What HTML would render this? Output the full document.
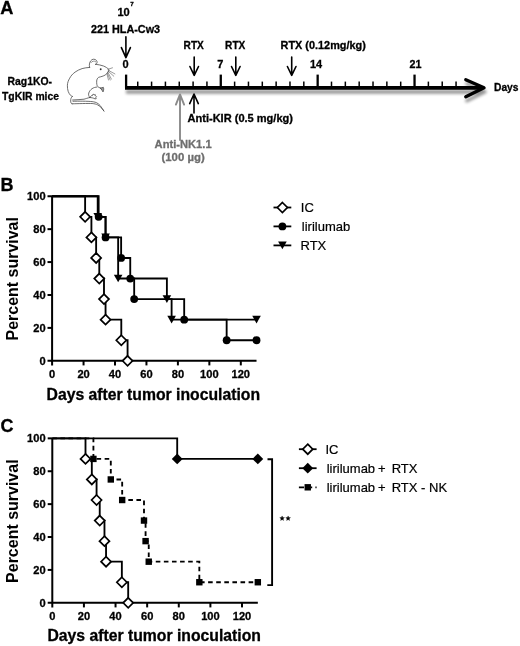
<!DOCTYPE html>
<html><head><meta charset="utf-8"><title>Figure</title>
<style>
html,body{margin:0;padding:0;background:#fff;}
svg{display:block;will-change:transform;}
text{font-family:"Liberation Sans", sans-serif;}
</style></head>
<body>
<svg width="520" height="646" viewBox="0 0 520 646">
<defs>
<filter id="sh" x="-5%" y="-50%" width="110%" height="250%">
<feGaussianBlur in="SourceAlpha" stdDeviation="1.5"/>
<feOffset dx="0.5" dy="4.3" result="ob"/>
<feComponentTransfer><feFuncA type="linear" slope="0.42"/></feComponentTransfer>
<feMerge><feMergeNode/><feMergeNode in="SourceGraphic"/></feMerge>
</filter>
</defs>
<rect width="520" height="646" fill="#fff"/>
<g id="panelA">
<text x="0.2" y="14.1" font-size="18.2" font-weight="bold" fill="#000" text-anchor="start" stroke="#000" stroke-width="0.3">A</text>
<g filter="url(#sh)">
<line x1="125" y1="87.9" x2="483" y2="87.9" stroke="#000" stroke-width="3.6"/>
<polyline points="465.8,79.8 484.0,87.8 465.8,96.7" fill="none" stroke="#000" stroke-width="3.4" stroke-linecap="round" stroke-linejoin="round"/>
</g>
<line x1="126.10" y1="74.6" x2="126.10" y2="87.9" stroke="#000" stroke-width="2.3"/>
<line x1="137.74" y1="81.6" x2="137.74" y2="87.9" stroke="#000" stroke-width="1.5"/>
<line x1="151.58" y1="81.6" x2="151.58" y2="87.9" stroke="#000" stroke-width="1.5"/>
<line x1="165.42" y1="81.6" x2="165.42" y2="87.9" stroke="#000" stroke-width="1.5"/>
<line x1="179.26" y1="81.6" x2="179.26" y2="87.9" stroke="#000" stroke-width="1.5"/>
<line x1="193.10" y1="81.6" x2="193.10" y2="87.9" stroke="#000" stroke-width="1.5"/>
<line x1="206.94" y1="81.6" x2="206.94" y2="87.9" stroke="#000" stroke-width="1.5"/>
<line x1="220.78" y1="74.6" x2="220.78" y2="87.9" stroke="#000" stroke-width="2.3"/>
<line x1="234.62" y1="81.6" x2="234.62" y2="87.9" stroke="#000" stroke-width="1.5"/>
<line x1="248.46" y1="81.6" x2="248.46" y2="87.9" stroke="#000" stroke-width="1.5"/>
<line x1="262.30" y1="81.6" x2="262.30" y2="87.9" stroke="#000" stroke-width="1.5"/>
<line x1="276.14" y1="81.6" x2="276.14" y2="87.9" stroke="#000" stroke-width="1.5"/>
<line x1="289.98" y1="81.6" x2="289.98" y2="87.9" stroke="#000" stroke-width="1.5"/>
<line x1="303.82" y1="81.6" x2="303.82" y2="87.9" stroke="#000" stroke-width="1.5"/>
<line x1="317.66" y1="74.6" x2="317.66" y2="87.9" stroke="#000" stroke-width="2.3"/>
<line x1="331.50" y1="81.6" x2="331.50" y2="87.9" stroke="#000" stroke-width="1.5"/>
<line x1="345.34" y1="81.6" x2="345.34" y2="87.9" stroke="#000" stroke-width="1.5"/>
<line x1="359.18" y1="81.6" x2="359.18" y2="87.9" stroke="#000" stroke-width="1.5"/>
<line x1="373.02" y1="81.6" x2="373.02" y2="87.9" stroke="#000" stroke-width="1.5"/>
<line x1="386.86" y1="81.6" x2="386.86" y2="87.9" stroke="#000" stroke-width="1.5"/>
<line x1="400.70" y1="81.6" x2="400.70" y2="87.9" stroke="#000" stroke-width="1.5"/>
<line x1="414.54" y1="74.6" x2="414.54" y2="87.9" stroke="#000" stroke-width="2.3"/>
<line x1="428.38" y1="81.6" x2="428.38" y2="87.9" stroke="#000" stroke-width="1.5"/>
<line x1="442.22" y1="81.6" x2="442.22" y2="87.9" stroke="#000" stroke-width="1.5"/>
<line x1="456.06" y1="81.6" x2="456.06" y2="87.9" stroke="#000" stroke-width="1.5"/>
<text x="122.4" y="67.7" font-size="11" font-weight="bold" fill="#000" text-anchor="start" stroke="#000" stroke-width="0.3">0</text>
<text x="217.2" y="67.7" font-size="11" font-weight="bold" fill="#000" text-anchor="start" stroke="#000" stroke-width="0.3">7</text>
<text x="310.0" y="68.0" font-size="11" font-weight="bold" fill="#000" text-anchor="start" textLength="12.2" lengthAdjust="spacingAndGlyphs" stroke="#000" stroke-width="0.3">14</text>
<text x="409.6" y="68.2" font-size="11" font-weight="bold" fill="#000" text-anchor="start" textLength="12.0" lengthAdjust="spacingAndGlyphs" stroke="#000" stroke-width="0.3">21</text>
<text x="494.0" y="90.5" font-size="11" font-weight="bold" fill="#000" text-anchor="start" textLength="24.5" lengthAdjust="spacingAndGlyphs" stroke="#000" stroke-width="0.3">Days</text>
<text x="117.4" y="15.9" font-size="11" font-weight="bold" fill="#000" text-anchor="start" textLength="12.3" lengthAdjust="spacingAndGlyphs" stroke="#000" stroke-width="0.3">10</text>
<text x="130.2" y="5.8" font-size="6.2" font-weight="bold" fill="#000" text-anchor="start" stroke="#000" stroke-width="0.3">7</text>
<text x="91.0" y="32.7" font-size="11" font-weight="bold" fill="#000" text-anchor="start" textLength="69.1" lengthAdjust="spacingAndGlyphs" stroke="#000" stroke-width="0.3">221 HLA-Cw3</text>
<text x="183.6" y="49.2" font-size="11" font-weight="bold" fill="#000" text-anchor="start" textLength="20.2" lengthAdjust="spacingAndGlyphs" stroke="#000" stroke-width="0.3">RTX</text>
<text x="225.1" y="49.2" font-size="11" font-weight="bold" fill="#000" text-anchor="start" textLength="20.2" lengthAdjust="spacingAndGlyphs" stroke="#000" stroke-width="0.3">RTX</text>
<text x="280.6" y="49.2" font-size="11" font-weight="bold" fill="#000" text-anchor="start" textLength="85.2" lengthAdjust="spacingAndGlyphs" stroke="#000" stroke-width="0.3">RTX (0.12mg/kg)</text>
<path d="M125.9 36.8 L125.9 57.300000000000004 M121.4 47.6 L125.9 57.6 L130.4 47.6" fill="none" stroke="#000" stroke-width="1.6" stroke-linecap="round" stroke-linejoin="round"/>
<path d="M194.2 57.0 L194.2 75.0 M189.89999999999998 66.5 L194.2 75.3 L198.5 66.5" fill="none" stroke="#000" stroke-width="1.6" stroke-linecap="round" stroke-linejoin="round"/>
<path d="M235.8 57.0 L235.8 75.0 M231.5 66.5 L235.8 75.3 L240.10000000000002 66.5" fill="none" stroke="#000" stroke-width="1.6" stroke-linecap="round" stroke-linejoin="round"/>
<path d="M291.7 57.0 L291.7 75.0 M287.4 66.5 L291.7 75.3 L296.0 66.5" fill="none" stroke="#000" stroke-width="1.6" stroke-linecap="round" stroke-linejoin="round"/>
<path d="M180.0 140.0 L180.0 94.7 M175.9 104.6 L180.0 94.4 L184.1 104.6" fill="none" stroke="#8a8a8a" stroke-width="1.9" stroke-linecap="round" stroke-linejoin="round"/>
<path d="M194.0 113.0 L194.0 94.3 M189.7 103.6 L194.0 94.0 L198.3 103.6" fill="none" stroke="#000" stroke-width="1.6" stroke-linecap="round" stroke-linejoin="round"/>
<text x="187.5" y="122.1" font-size="11" font-weight="bold" fill="#000" text-anchor="start" textLength="105.5" lengthAdjust="spacingAndGlyphs" stroke="#000" stroke-width="0.3">Anti-KIR (0.5 mg/kg)</text>
<text x="154.6" y="147.9" font-size="11" font-weight="bold" fill="#6e6e6e" text-anchor="start" textLength="57.0" lengthAdjust="spacingAndGlyphs" stroke="#6e6e6e" stroke-width="0.3">Anti-NK1.1</text>
<text x="161.5" y="161.3" font-size="11" font-weight="bold" fill="#6e6e6e" text-anchor="start" textLength="43.2" lengthAdjust="spacingAndGlyphs" stroke="#6e6e6e" stroke-width="0.3">(100 µg)</text>
<text x="7.6" y="84.9" font-size="11" font-weight="bold" fill="#000" text-anchor="start" textLength="44.4" lengthAdjust="spacingAndGlyphs" stroke="#000" stroke-width="0.3">Rag1KO-</text>
<text x="2.0" y="99.7" font-size="11" font-weight="bold" fill="#000" text-anchor="start" textLength="57.0" lengthAdjust="spacingAndGlyphs" stroke="#000" stroke-width="0.3">TgKIR mice</text>
</g>
<g id="mouse" fill="none" stroke="#4a4a4a" stroke-width="0.8" stroke-linecap="round" stroke-linejoin="round">
<path d="M89.5 67.3 C88.9 64.5 89.6 61.2 92.0 59.6 C94.2 58.6 96.6 59.6 97.1 61.8 C97.3 62.9 96.6 63.9 95.5 64.4"/>
<path d="M91.0 62.6 C92.0 61.0 94.3 60.5 95.8 61.8" stroke-width="0.6"/>
<path d="M95.5 64.3 C98 64.6 101 65 103.5 66 C105.5 66.8 107.5 68 109.1 69.8 C108.7 71.3 107.5 72.7 105.6 74.8 C103.5 76.2 100.5 76.8 98.7 77.3 C97.5 78 96.7 79.5 96.7 81 C96.6 83.5 96.8 85.5 97.6 86.3 C98.3 87.3 99.3 87.8 100.5 88.1"/>
<path d="M100.5 88.1 C101.5 88 102.6 87.5 103.3 87.3 C103.9 88.5 103.8 90.5 103 91.9 C102.4 91 101.9 90 101.3 89.2 Z" fill="#999"/>
<path d="M97 87 C95.5 87.2 93.5 87.6 92 88.7 C90.3 90 89.2 91.5 88.8 93 C88.3 94.5 88.5 96 89.9 97.5"/>
<path d="M89.9 97.5 C90.6 96.6 91.1 95.9 91.6 95.5 L92.4 95.6 L93.2 94.0 L94.1 94.9 L95.2 94.5 L95.5 95.8 L96.5 96.8 L95.8 97.6 L96.2 98.7 L95.0 98.9 C94.3 98.4 93.4 98.1 92.5 97.9 C91.6 97.7 90.8 97.6 89.9 97.5 Z" fill="#fff" stroke="#444" stroke-width="0.8"/>
<path d="M89.9 97.5 C87.5 98 85.5 98.8 84 99.2 C80 99.6 76 99.8 72.6 100.0"/>
<path d="M89.8 67.4 C87 67.6 84.5 67.9 82.1 68.6 C79.5 69.5 77 70.6 75.1 72.1 C72.5 74 70.8 76 69.7 78.2 C68.3 80.5 67.5 82.8 67.4 85.2 C67.3 87.5 67.6 89.6 68.2 91.4 C68.8 93 69.6 94.4 70.5 95.3 C71.2 95.9 71.8 96.2 72.4 96.4"/>
<path d="M72.4 96.4 C71.4 97.3 70.9 98.2 70.8 99.3 C70.6 100.6 70.6 101.6 70.9 102.6 C71.2 103.3 71.6 103.7 72.1 103.8"/>
<path d="M73 101.3 C78 101.0 88 101.2 92.1 101.6 C94.5 101.9 96 102.4 96.9 102.9 C98.3 103.8 99.4 104.6 100.2 105.6 C101.5 107.3 102.8 109.2 103.9 111"/>
<path d="M72.1 103.8 C78 103.6 88 103.4 92.1 103.5 C94.5 103.7 96.2 104.2 97.5 104.8 C99 105.6 100.7 107 101.8 108.3 C102.6 109.3 103.3 110.2 103.9 111"/>
<path d="M107.9 69.3 L112.5 67.8 M108.5 70.4 L114.9 73.9 M108.2 71.2 L113.8 76.2 M107.9 72.2 L111.4 79.1 M107.4 73.3 L110.2 80 M106.9 73.8 L108.5 80" stroke-width="0.55"/>
<circle cx="100.7" cy="69.2" r="0.95" fill="#333" stroke="none"/>
</g>
<g id="chartB">
<text x="0.4" y="190.6" font-size="18.0" font-weight="bold" fill="#000" text-anchor="start" stroke="#000" stroke-width="0.3">B</text>
<path d="M52.1 196.25000000000003 L52.1 365.40000000000003 M47.5 360.8 L256.52500000000003 360.8" fill="none" stroke="#000" stroke-width="2"/>
<line x1="47.5" y1="327.89" x2="52.1" y2="327.89" stroke="#000" stroke-width="2"/>
<line x1="47.5" y1="294.98" x2="52.1" y2="294.98" stroke="#000" stroke-width="2"/>
<line x1="47.5" y1="262.07" x2="52.1" y2="262.07" stroke="#000" stroke-width="2"/>
<line x1="47.5" y1="229.16" x2="52.1" y2="229.16" stroke="#000" stroke-width="2"/>
<line x1="47.5" y1="196.25" x2="52.1" y2="196.25" stroke="#000" stroke-width="2"/>
<line x1="83.55" y1="360.8" x2="83.55" y2="365.40000000000003" stroke="#000" stroke-width="2"/>
<line x1="115.00" y1="360.8" x2="115.00" y2="365.40000000000003" stroke="#000" stroke-width="2"/>
<line x1="146.45" y1="360.8" x2="146.45" y2="365.40000000000003" stroke="#000" stroke-width="2"/>
<line x1="177.90" y1="360.8" x2="177.90" y2="365.40000000000003" stroke="#000" stroke-width="2"/>
<line x1="209.35" y1="360.8" x2="209.35" y2="365.40000000000003" stroke="#000" stroke-width="2"/>
<line x1="240.80" y1="360.8" x2="240.80" y2="365.40000000000003" stroke="#000" stroke-width="2"/>
<text x="45.6" y="364.90000000000003" font-size="11.1" font-weight="bold" fill="#000" text-anchor="end" stroke="#000" stroke-width="0.3">0</text>
<text x="45.6" y="331.99" font-size="11.1" font-weight="bold" fill="#000" text-anchor="end" stroke="#000" stroke-width="0.3">20</text>
<text x="45.6" y="299.08000000000004" font-size="11.1" font-weight="bold" fill="#000" text-anchor="end" stroke="#000" stroke-width="0.3">40</text>
<text x="45.6" y="266.17" font-size="11.1" font-weight="bold" fill="#000" text-anchor="end" stroke="#000" stroke-width="0.3">60</text>
<text x="45.6" y="233.26000000000002" font-size="11.1" font-weight="bold" fill="#000" text-anchor="end" stroke="#000" stroke-width="0.3">80</text>
<text x="45.6" y="200.35000000000002" font-size="11.1" font-weight="bold" fill="#000" text-anchor="end" stroke="#000" stroke-width="0.3">100</text>
<text x="52.1" y="378.1" font-size="11.1" font-weight="bold" fill="#000" text-anchor="middle" stroke="#000" stroke-width="0.3">0</text>
<text x="83.55" y="378.1" font-size="11.1" font-weight="bold" fill="#000" text-anchor="middle" stroke="#000" stroke-width="0.3">20</text>
<text x="115.0" y="378.1" font-size="11.1" font-weight="bold" fill="#000" text-anchor="middle" stroke="#000" stroke-width="0.3">40</text>
<text x="146.45" y="378.1" font-size="11.1" font-weight="bold" fill="#000" text-anchor="middle" stroke="#000" stroke-width="0.3">60</text>
<text x="177.9" y="378.1" font-size="11.1" font-weight="bold" fill="#000" text-anchor="middle" stroke="#000" stroke-width="0.3">80</text>
<text x="209.35" y="378.1" font-size="11.1" font-weight="bold" fill="#000" text-anchor="middle" stroke="#000" stroke-width="0.3">100</text>
<text x="240.79999999999998" y="378.1" font-size="11.1" font-weight="bold" fill="#000" text-anchor="middle" stroke="#000" stroke-width="0.3">120</text>
<text x="46.55" y="399.5" font-size="15.8" font-weight="bold" fill="#000" text-anchor="start" textLength="213.54999999999998" lengthAdjust="spacingAndGlyphs" stroke="#000" stroke-width="0.3">Days after tumor inoculation</text>
<text transform="translate(17.6,340.4) rotate(-90)" font-size="15.6" font-weight="bold" textLength="123.30000000000001" lengthAdjust="spacingAndGlyphs">Percent survival</text>
<path d="M52.10 196.25 L85.12 196.25 L85.12 216.82 L91.41 216.82 L91.41 237.39 L96.13 237.39 L96.13 257.96 L99.28 257.96 L99.28 278.53 L103.99 278.53 L103.99 299.09 L105.56 299.09 L105.56 319.66 L121.29 319.66 L121.29 340.23 L127.58 340.23 L127.58 360.80" fill="none" stroke="#000" stroke-width="1.85"/>
<path d="M52.10 196.25 L97.70 196.25 L97.70 216.82 L105.56 216.82 L105.56 237.39 L118.15 237.39 L118.15 278.53 L166.89 278.53 L166.89 299.09 L171.61 299.09 L171.61 319.66 L256.53 319.66" fill="none" stroke="#000" stroke-width="1.85"/>
<path d="M52.10 196.25 L98.65 196.25 L98.65 216.82 L105.56 216.82 L105.56 237.39 L121.13 237.39 L121.13 257.96 L130.25 257.96 L130.25 278.53 L134.18 278.53 L134.18 299.09 L184.19 299.09 L184.19 319.66 L226.65 319.66 L226.65 340.23 L256.53 340.23" fill="none" stroke="#000" stroke-width="1.85"/>
<path d="M85.12 211.82 L90.12 216.82 L85.12 221.82 L80.12 216.82 Z" fill="#fff" stroke="#000" stroke-width="1.7"/>
<path d="M91.41 232.39 L96.41 237.39 L91.41 242.39 L86.41 237.39 Z" fill="#fff" stroke="#000" stroke-width="1.7"/>
<path d="M96.13 252.96 L101.13 257.96 L96.13 262.96 L91.13 257.96 Z" fill="#fff" stroke="#000" stroke-width="1.7"/>
<path d="M99.28 273.53 L104.28 278.53 L99.28 283.53 L94.28 278.53 Z" fill="#fff" stroke="#000" stroke-width="1.7"/>
<path d="M103.99 294.09 L108.99 299.09 L103.99 304.09 L98.99 299.09 Z" fill="#fff" stroke="#000" stroke-width="1.7"/>
<path d="M105.56 314.66 L110.56 319.66 L105.56 324.66 L100.56 319.66 Z" fill="#fff" stroke="#000" stroke-width="1.7"/>
<path d="M121.29 335.23 L126.29 340.23 L121.29 345.23 L116.29 340.23 Z" fill="#fff" stroke="#000" stroke-width="1.7"/>
<path d="M127.58 355.80 L132.58 360.80 L127.58 365.80 L122.58 360.80 Z" fill="#fff" stroke="#000" stroke-width="1.7"/>
<path d="M93.40 213.02 L102.00 213.02 L97.70 220.62 Z" fill="#000"/>
<path d="M101.27 233.59 L109.86 233.59 L105.56 241.19 Z" fill="#000"/>
<path d="M113.85 274.73 L122.45 274.73 L118.15 282.33 Z" fill="#000"/>
<path d="M162.59 295.29 L171.19 295.29 L166.89 302.89 Z" fill="#000"/>
<path d="M167.31 315.86 L175.91 315.86 L171.61 323.46 Z" fill="#000"/>
<path d="M252.23 315.86 L260.83 315.86 L256.53 323.46 Z" fill="#000"/>
<circle cx="98.65" cy="216.82" r="3.9" fill="#000"/>
<circle cx="105.56" cy="237.39" r="3.9" fill="#000"/>
<circle cx="121.13" cy="257.96" r="3.9" fill="#000"/>
<circle cx="130.25" cy="278.53" r="3.9" fill="#000"/>
<circle cx="134.18" cy="299.09" r="3.9" fill="#000"/>
<circle cx="184.19" cy="319.66" r="3.9" fill="#000"/>
<circle cx="226.65" cy="340.23" r="3.9" fill="#000"/>
<circle cx="256.53" cy="340.23" r="3.9" fill="#000"/>
<line x1="273.5" y1="207.5" x2="291.3" y2="207.5" stroke="#000" stroke-width="1.8"/>
<path d="M282.40 202.50 L287.40 207.50 L282.40 212.50 L277.40 207.50 Z" fill="#fff" stroke="#000" stroke-width="1.7"/>
<text x="300.8" y="212.1" font-size="13" font-weight="normal" fill="#000" text-anchor="start" stroke="#000" stroke-width="0.2">IC</text>
<line x1="273.5" y1="226.4" x2="291.3" y2="226.4" stroke="#000" stroke-width="1.8"/>
<circle cx="282.40" cy="226.40" r="3.9" fill="#000"/>
<text x="301.8" y="230.7" font-size="13" font-weight="normal" fill="#000" text-anchor="start" stroke="#000" stroke-width="0.2">lirilumab</text>
<line x1="273.5" y1="245.4" x2="291.3" y2="245.4" stroke="#000" stroke-width="1.8"/>
<path d="M278.10 241.60 L286.70 241.60 L282.40 249.20 Z" fill="#000"/>
<text x="300.5" y="249.9" font-size="13" font-weight="normal" fill="#000" text-anchor="start" stroke="#000" stroke-width="0.2">RTX</text>
</g>
<g id="chartC">
<text x="0.4" y="432.0" font-size="18.0" font-weight="bold" fill="#000" text-anchor="start" stroke="#000" stroke-width="0.3">C</text>
<path d="M52.3 438.3499999999999 L52.3 607.4 M47.699999999999996 602.8 L257.83 602.8" fill="none" stroke="#000" stroke-width="2"/>
<line x1="47.699999999999996" y1="569.91" x2="52.3" y2="569.91" stroke="#000" stroke-width="2"/>
<line x1="47.699999999999996" y1="537.02" x2="52.3" y2="537.02" stroke="#000" stroke-width="2"/>
<line x1="47.699999999999996" y1="504.13" x2="52.3" y2="504.13" stroke="#000" stroke-width="2"/>
<line x1="47.699999999999996" y1="471.24" x2="52.3" y2="471.24" stroke="#000" stroke-width="2"/>
<line x1="47.699999999999996" y1="438.35" x2="52.3" y2="438.35" stroke="#000" stroke-width="2"/>
<line x1="83.92" y1="602.8" x2="83.92" y2="607.4" stroke="#000" stroke-width="2"/>
<line x1="115.54" y1="602.8" x2="115.54" y2="607.4" stroke="#000" stroke-width="2"/>
<line x1="147.16" y1="602.8" x2="147.16" y2="607.4" stroke="#000" stroke-width="2"/>
<line x1="178.78" y1="602.8" x2="178.78" y2="607.4" stroke="#000" stroke-width="2"/>
<line x1="210.40" y1="602.8" x2="210.40" y2="607.4" stroke="#000" stroke-width="2"/>
<line x1="242.02" y1="602.8" x2="242.02" y2="607.4" stroke="#000" stroke-width="2"/>
<text x="45.6" y="606.9" font-size="11.1" font-weight="bold" fill="#000" text-anchor="end" stroke="#000" stroke-width="0.3">0</text>
<text x="45.6" y="574.01" font-size="11.1" font-weight="bold" fill="#000" text-anchor="end" stroke="#000" stroke-width="0.3">20</text>
<text x="45.6" y="541.12" font-size="11.1" font-weight="bold" fill="#000" text-anchor="end" stroke="#000" stroke-width="0.3">40</text>
<text x="45.6" y="508.22999999999996" font-size="11.1" font-weight="bold" fill="#000" text-anchor="end" stroke="#000" stroke-width="0.3">60</text>
<text x="45.6" y="475.34" font-size="11.1" font-weight="bold" fill="#000" text-anchor="end" stroke="#000" stroke-width="0.3">80</text>
<text x="45.6" y="442.44999999999993" font-size="11.1" font-weight="bold" fill="#000" text-anchor="end" stroke="#000" stroke-width="0.3">100</text>
<text x="52.3" y="620.0999999999999" font-size="11.1" font-weight="bold" fill="#000" text-anchor="middle" stroke="#000" stroke-width="0.3">0</text>
<text x="83.91999999999999" y="620.0999999999999" font-size="11.1" font-weight="bold" fill="#000" text-anchor="middle" stroke="#000" stroke-width="0.3">20</text>
<text x="115.53999999999999" y="620.0999999999999" font-size="11.1" font-weight="bold" fill="#000" text-anchor="middle" stroke="#000" stroke-width="0.3">40</text>
<text x="147.16" y="620.0999999999999" font-size="11.1" font-weight="bold" fill="#000" text-anchor="middle" stroke="#000" stroke-width="0.3">60</text>
<text x="178.77999999999997" y="620.0999999999999" font-size="11.1" font-weight="bold" fill="#000" text-anchor="middle" stroke="#000" stroke-width="0.3">80</text>
<text x="210.39999999999998" y="620.0999999999999" font-size="11.1" font-weight="bold" fill="#000" text-anchor="middle" stroke="#000" stroke-width="0.3">100</text>
<text x="242.01999999999998" y="620.0999999999999" font-size="11.1" font-weight="bold" fill="#000" text-anchor="middle" stroke="#000" stroke-width="0.3">120</text>
<text x="47.4" y="640.9" font-size="15.8" font-weight="bold" fill="#000" text-anchor="start" textLength="213.5" lengthAdjust="spacingAndGlyphs" stroke="#000" stroke-width="0.3">Days after tumor inoculation</text>
<text transform="translate(17.6,582.9) rotate(-90)" font-size="15.6" font-weight="bold" textLength="123.5" lengthAdjust="spacingAndGlyphs">Percent survival</text>
<path d="M52.30 438.35 L85.50 438.35 L85.50 458.91 L91.82 458.91 L91.82 479.46 L96.57 479.46 L96.57 500.02 L99.73 500.02 L99.73 520.57 L104.47 520.57 L104.47 541.13 L106.05 541.13 L106.05 561.69 L121.86 561.69 L121.86 582.24 L128.19 582.24 L128.19 602.80" fill="none" stroke="#000" stroke-width="1.85"/>
<path d="M52.30 438.35 L93.41 438.35 L93.41 458.91 L110.80 458.91 L110.80 479.46 L122.18 479.46 L122.18 500.02 L144.00 500.02 L144.00 520.57 L145.58 520.57 L145.58 541.13 L148.74 541.13 L148.74 561.69 L199.33 561.69 L199.33 582.24 L257.83 582.24" fill="none" stroke="#000" stroke-width="1.85" stroke-dasharray="4.6 3.5"/>
<path d="M52.30 438.35 L177.20 438.35 L177.20 458.91 L257.83 458.91" fill="none" stroke="#000" stroke-width="1.85"/>
<path d="M85.50 453.91 L90.50 458.91 L85.50 463.91 L80.50 458.91 Z" fill="#fff" stroke="#000" stroke-width="1.7"/>
<path d="M91.82 474.46 L96.82 479.46 L91.82 484.46 L86.82 479.46 Z" fill="#fff" stroke="#000" stroke-width="1.7"/>
<path d="M96.57 495.02 L101.57 500.02 L96.57 505.02 L91.57 500.02 Z" fill="#fff" stroke="#000" stroke-width="1.7"/>
<path d="M99.73 515.57 L104.73 520.57 L99.73 525.57 L94.73 520.57 Z" fill="#fff" stroke="#000" stroke-width="1.7"/>
<path d="M104.47 536.13 L109.47 541.13 L104.47 546.13 L99.47 541.13 Z" fill="#fff" stroke="#000" stroke-width="1.7"/>
<path d="M106.05 556.69 L111.05 561.69 L106.05 566.69 L101.05 561.69 Z" fill="#fff" stroke="#000" stroke-width="1.7"/>
<path d="M121.86 577.24 L126.86 582.24 L121.86 587.24 L116.86 582.24 Z" fill="#fff" stroke="#000" stroke-width="1.7"/>
<path d="M128.19 597.80 L133.19 602.80 L128.19 607.80 L123.19 602.80 Z" fill="#fff" stroke="#000" stroke-width="1.7"/>
<rect x="90.21" y="455.71" width="6.40" height="6.40" fill="#000"/>
<rect x="107.60" y="476.26" width="6.40" height="6.40" fill="#000"/>
<rect x="118.98" y="496.82" width="6.40" height="6.40" fill="#000"/>
<rect x="140.80" y="517.37" width="6.40" height="6.40" fill="#000"/>
<rect x="142.38" y="537.93" width="6.40" height="6.40" fill="#000"/>
<rect x="145.54" y="558.49" width="6.40" height="6.40" fill="#000"/>
<rect x="196.13" y="579.04" width="6.40" height="6.40" fill="#000"/>
<rect x="254.63" y="579.04" width="6.40" height="6.40" fill="#000"/>
<path d="M177.20 453.51 L182.60 458.91 L177.20 464.31 L171.80 458.91 Z" fill="#000"/>
<path d="M257.83 453.51 L263.23 458.91 L257.83 464.31 L252.43 458.91 Z" fill="#000"/>
<line x1="298.9" y1="449.2" x2="316.6" y2="449.2" stroke="#000" stroke-width="1.8"/>
<path d="M307.75 444.20 L312.75 449.20 L307.75 454.20 L302.75 449.20 Z" fill="#fff" stroke="#000" stroke-width="1.7"/>
<text x="325.5" y="454.1" font-size="13" font-weight="normal" fill="#000" text-anchor="start" stroke="#000" stroke-width="0.2">IC</text>
<line x1="298.9" y1="468.2" x2="316.6" y2="468.2" stroke="#000" stroke-width="1.8"/>
<path d="M307.75 462.80 L313.15 468.20 L307.75 473.60 L302.35 468.20 Z" fill="#000"/>
<text x="326.7" y="472.9" font-size="13" font-weight="normal" fill="#000" text-anchor="start" stroke="#000" stroke-width="0.2">lirilumab</text>
<text x="378.0" y="472.9" font-size="13" font-weight="normal" fill="#000" text-anchor="start" stroke="#000" stroke-width="0.2">+</text>
<text x="391.7" y="472.9" font-size="13" font-weight="normal" fill="#000" text-anchor="start" stroke="#000" stroke-width="0.2">RTX</text>
<path d="M298.9 487.3 L304 487.3 M311 487.3 L312.2 487.3 M315.4 487.3 L316.6 487.3" stroke="#000" stroke-width="1.8"/>
<rect x="304.55" y="484.10" width="6.40" height="6.40" fill="#000"/>
<text x="326.7" y="491.6" font-size="13" font-weight="normal" fill="#000" text-anchor="start" stroke="#000" stroke-width="0.2">lirilumab</text>
<text x="378.0" y="491.6" font-size="13" font-weight="normal" fill="#000" text-anchor="start" stroke="#000" stroke-width="0.2">+</text>
<text x="391.7" y="491.6" font-size="13" font-weight="normal" fill="#000" text-anchor="start" stroke="#000" stroke-width="0.2">RTX - NK</text>
<path d="M267.5 459.2 L272.1 459.2 L272.1 585.1 L267.3 585.1" fill="none" stroke="#000" stroke-width="1.9"/>
<polygon points="282.10,515.95 282.70,517.57 284.43,517.64 283.08,518.72 283.54,520.38 282.10,519.43 280.66,520.38 281.12,518.72 279.77,517.64 281.50,517.57" fill="#000" stroke="#000" stroke-width="0.4"/>
<polygon points="288.10,515.95 288.70,517.57 290.43,517.64 289.08,518.72 289.54,520.38 288.10,519.43 286.66,520.38 287.12,518.72 285.77,517.64 287.50,517.57" fill="#000" stroke="#000" stroke-width="0.4"/>
</g>
</svg>
</body></html>
